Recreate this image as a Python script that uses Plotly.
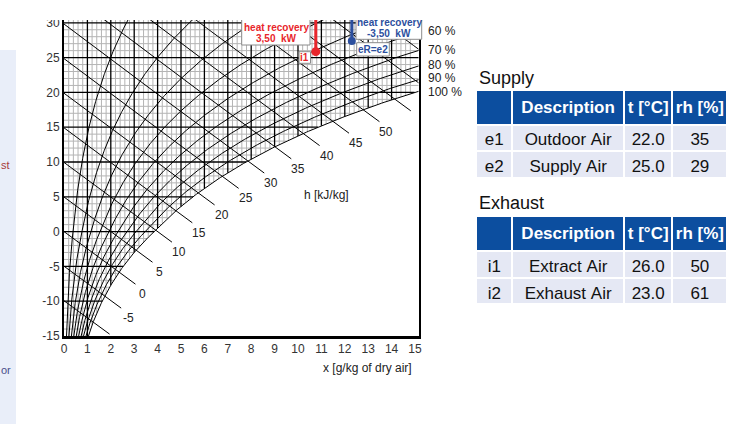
import numpy as np
import plotly.graph_objects as go

W, H = 747, 424
FONT = "Liberation Sans, Arial, sans-serif"
P = 99.2  # kPa, air pressure used by the chart

# ---------------- chart data ----------------
rh_levels = [10, 20, 30, 40, 50, 60, 70, 80, 90, 100]
rh_label_levels = [60, 70, 80, 90, 100]
h_levels = list(range(-10, 80, 5))
h_label_levels = [-5, 0, 5, 10, 15, 20, 25, 30, 35, 40, 45, 50]
x_ticks = list(range(0, 16))
t_ticks = list(range(-15, 35, 5))
t_tick_text = [str(v) for v in t_ticks]

# marked states
i1_x, i1_t = 10.76, 25.85
eR_x, eR_t = 12.3, 27.4

supply_ids = ["e1", "e2"]
supply_desc = ["Outdoor Air", "Supply Air"]
supply_t = ["22.0", "25.0"]
supply_rh = ["35", "29"]
exhaust_ids = ["i1", "i2"]
exhaust_desc = ["Extract Air", "Exhaust Air"]
exhaust_t = ["26.0", "23.0"]
exhaust_rh = ["50", "61"]

X_MAX = 15.15
T_MIN, T_TOP = -15.0, 30.4


def psat(t):
    t = np.asarray(t, float)
    return np.where(t >= 0, 0.61094 * np.exp(17.625 * t / (243.04 + t)),
                    0.61115 * np.exp(22.452 * t / (272.55 + t)))


def x_of(t, phi):
    pw = phi * psat(t)
    return 622.0 * pw / (P - pw)


def t_of_h(h, x):
    return (h - 2.501 * x) / (1.006 + 0.00186 * x)


_T = np.linspace(-40, 45, 20001)
_X = x_of(_T, 1.0)


def t_sat(x):
    return np.interp(x, _X, _T)


def seg_trace(segs, color, width):
    xs, ys = [], []
    for sx, sy in segs:
        xs += list(sx) + [None]
        ys += list(sy) + [None]
    return go.Scatter(x=xs, y=ys, mode="lines", line=dict(color=color, width=width),
                      hoverinfo="skip", showlegend=False)


fig = go.Figure()

# minor grid
minor = []
for xv in np.round(np.arange(0.2, X_MAX, 0.2), 3):
    if abs(xv - round(xv)) < 1e-6:
        continue
    minor.append(([xv, xv], [float(t_sat(xv)), T_TOP + 1]))
for tv in range(-14, 31):
    if tv % 5 == 0:
        continue
    minor.append(([0, min(float(x_of(tv, 1.0)), X_MAX + 0.1)], [tv, tv]))
fig.add_trace(seg_trace(minor, "#b4b4b4", 1))

# major grid
major = []
for xv in range(1, 15):
    major.append(([xv, xv], [float(t_sat(xv)), T_TOP + 1]))
for tv in range(-10, 35, 5):
    major.append(([0, min(float(x_of(tv, 1.0)), X_MAX + 0.1)], [tv, tv]))
fig.add_trace(seg_trace(major, "#000000", 1.3))

# rh curves
tt = np.linspace(T_MIN - 1, T_TOP + 1, 400)
rh_segs = [(x_of(tt, p / 100.0), tt) for p in rh_levels]
fig.add_trace(seg_trace(rh_segs, "#000000", 1))

# enthalpy lines
xd = np.arange(0, 25, 0.0005)
h_segs, h_ends = [], {}
for h in h_levels:
    g = t_of_h(h, xd) - t_sat(xd)
    idx = np.argmax(g <= 0)
    xe = xd[idx] + 0.7
    xs = np.linspace(0, xe, 80)
    h_segs.append((xs, t_of_h(h, xs)))
    h_ends[h] = (xe, float(t_of_h(h, xe)))
fig.add_trace(seg_trace(h_segs, "#000000", 1))

# heat recovery markers
RED, BLUE = "#e8262c", "#2c4f9e"
fig.add_trace(go.Scatter(x=[i1_x, i1_x], y=[i1_t, T_TOP + 5], mode="lines",
                         line=dict(color=RED, width=3), hoverinfo="skip", showlegend=False))
fig.add_trace(go.Scatter(x=[i1_x], y=[i1_t], mode="markers",
                         marker=dict(color=RED, size=9), hoverinfo="skip", showlegend=False))
fig.add_trace(go.Scatter(x=[eR_x, eR_x], y=[eR_t, T_TOP + 5], mode="lines",
                         line=dict(color=BLUE, width=3), hoverinfo="skip", showlegend=False))
fig.add_trace(go.Scatter(x=[eR_x], y=[eR_t], mode="markers",
                         marker=dict(color=BLUE, size=8), hoverinfo="skip", showlegend=False))


def px(x):
    return x / W


def py(y):
    return 1 - y / H


ann = []
shapes = []
# rh labels
rh_label_shift = {60: 0.5, 70: 0.5, 80: 1.0, 90: 1.5, 100: -0.5}
for p in rh_label_levels:
    tv = float(np.interp(X_MAX, x_of(_T, p / 100.0), _T))
    ann.append(dict(x=px(426), xref="paper", y=tv, yref="y", text=f"{p} %", showarrow=False,
                    xanchor="left", yanchor="middle", yshift=rh_label_shift[p],
                    font=dict(size=12, color="#222", family=FONT)))
# h labels
for h in h_label_levels:
    xe, te = h_ends[h]
    ann.append(dict(x=xe, y=te, xref="x", yref="y", text=str(h), showarrow=False,
                    xanchor="center", yanchor="middle", xshift=7, yshift=-10,
                    font=dict(size=12, color="#222", family=FONT)))
ann.append(dict(x=px(302), y=py(195), xref="paper", yref="paper", text="h [kJ/kg]", showarrow=False,
                xanchor="left", yanchor="middle", font=dict(size=12, color="#222", family=FONT)))
ann.append(dict(x=px(414), y=py(368), xref="paper", yref="paper", text="x [g/kg of dry air]",
                showarrow=False, xanchor="right", yanchor="middle",
                font=dict(size=12, color="#222", family=FONT)))

# annotation boxes
for (x0, y0, x1, y1) in [(241.7, 14, 310, 45), (299, 51.7, 310.5, 63.3),
                         (356, 10, 421.7, 39.3), (356.7, 42.7, 389.3, 56)]:
    shapes.append(dict(type="rect", xref="paper", yref="paper", x0=px(x0), x1=px(x1),
                       y0=py(y1), y1=py(y0), fillcolor="white",
                       line=dict(color="#8c8c8c", width=1), layer="above"))
for (cx, cy, txt, col) in [(276, 27.3, "heat recovery", RED), (276, 38.3, "3,50&nbsp; kW", RED),
                           (304.8, 57.5, "i1", RED),
                           (389, 22.7, "heat recovery", BLUE), (389, 33.3, "-3,50&nbsp; kW", BLUE),
                           (373, 49.3, "eR=e2", BLUE)]:
    ann.append(dict(x=px(cx), y=py(cy), xref="paper", yref="paper", text=f"<b>{txt}</b>",
                    showarrow=False, xanchor="center", yanchor="middle",
                    font=dict(size=10, color=col, family=FONT)))

# left side panel (page fragment)
shapes.append(dict(type="rect", xref="paper", yref="paper", x0=0, x1=px(16), y0=0, y1=py(50),
                   fillcolor="#e9eef9", line=dict(width=0), layer="below"))
ann.append(dict(x=0, y=py(165), xref="paper", yref="paper", text="st", showarrow=False,
                xanchor="left", yanchor="middle", borderpad=0,
                font=dict(size=11, color="#a83a3a", family=FONT)))
ann.append(dict(x=0, y=py(370), xref="paper", yref="paper", text="or", showarrow=False,
                xanchor="left", yanchor="middle", borderpad=0,
                font=dict(size=11, color="#4a4f8a", family=FONT)))

# table titles
ann.append(dict(x=px(477), y=py(78.3), xref="paper", yref="paper", text="Supply", showarrow=False,
                xanchor="left", yanchor="middle", font=dict(size=18, color="#111", family=FONT)))
ann.append(dict(x=px(477), y=py(203.3), xref="paper", yref="paper", text="Exhaust", showarrow=False,
                xanchor="left", yanchor="middle", font=dict(size=18, color="#111", family=FONT)))

# white cover of the page top
ann.append(dict(x=0, y=1, xref="paper", yref="paper", text="&nbsp;", showarrow=False,
                xanchor="left", yanchor="top", width=W, height=20, bgcolor="white",
                borderpad=0, borderwidth=0, font=dict(size=10)))

NB = "\u00a0"
HEAD = ["", "<b>Description</b>", f"<b>t{NB}[°C]</b>", f"<b>rh{NB}[%]</b>"]
HBLUE, CELL = "#0c4e9f", "#e5e8f4"


def make_table(cols, top):
    cols = [[v.replace(" ", NB) for v in c] for c in cols]
    return go.Table(
        domain=dict(x=[px(476.3), px(727.7)], y=[py(top + 95), py(top - 1)]),
        columnwidth=[36, 112, 48.5, 55],
        header=dict(values=HEAD, fill_color=HBLUE, align="center", height=24.5,
                    line=dict(color="white", width=2),
                    font=dict(size=17, color="white", family=FONT)),
        cells=dict(values=cols, fill_color=CELL, align="center", height=26.5,
                   line=dict(color="white", width=2),
                   font=dict(size=17, color="#111", family=FONT)))


fig.add_trace(make_table([supply_ids, supply_desc, supply_t, supply_rh], 90.7))
fig.add_trace(make_table([exhaust_ids, exhaust_desc, exhaust_t, exhaust_rh], 217.3))

fig.update_layout(
    width=W, height=H, autosize=False,
    margin=dict(l=0, r=0, t=0, b=0, autoexpand=False),
    paper_bgcolor="white", plot_bgcolor="white",
    showlegend=False, annotations=ann, shapes=shapes,
    font=dict(family=FONT),
    xaxis=dict(domain=[px(64), px(418.5)], range=[0, X_MAX], tickvals=x_ticks,
               showgrid=False, zeroline=False, showline=True, linewidth=3, linecolor="black",
               ticks="", tickfont=dict(size=12, color="#333", family=FONT), fixedrange=True,
               automargin=False),
    yaxis=dict(domain=[py(336), py(20)], range=[T_MIN, T_TOP], tickvals=t_ticks,
               ticktext=t_tick_text, automargin=False,
               showgrid=False, zeroline=False, showline=True, linewidth=2, linecolor="black",
               mirror=True, ticks="", tickfont=dict(size=12, color="#333", family=FONT),
               fixedrange=True),
)

POST = ("document.documentElement.style.margin='0';document.documentElement.style.padding='0';"
        "document.documentElement.style.overflow='hidden';"
        "document.body.style.margin='0';document.body.style.padding='0';"
        "document.body.style.overflow='hidden';"
        "var d=document.getElementById('{plot_id}');d.style.position='fixed';"
        "d.style.left='0px';d.style.top='0px';")

fig.write_html("out.html", config={"displayModeBar": False, "responsive": False},
               post_script=POST)
